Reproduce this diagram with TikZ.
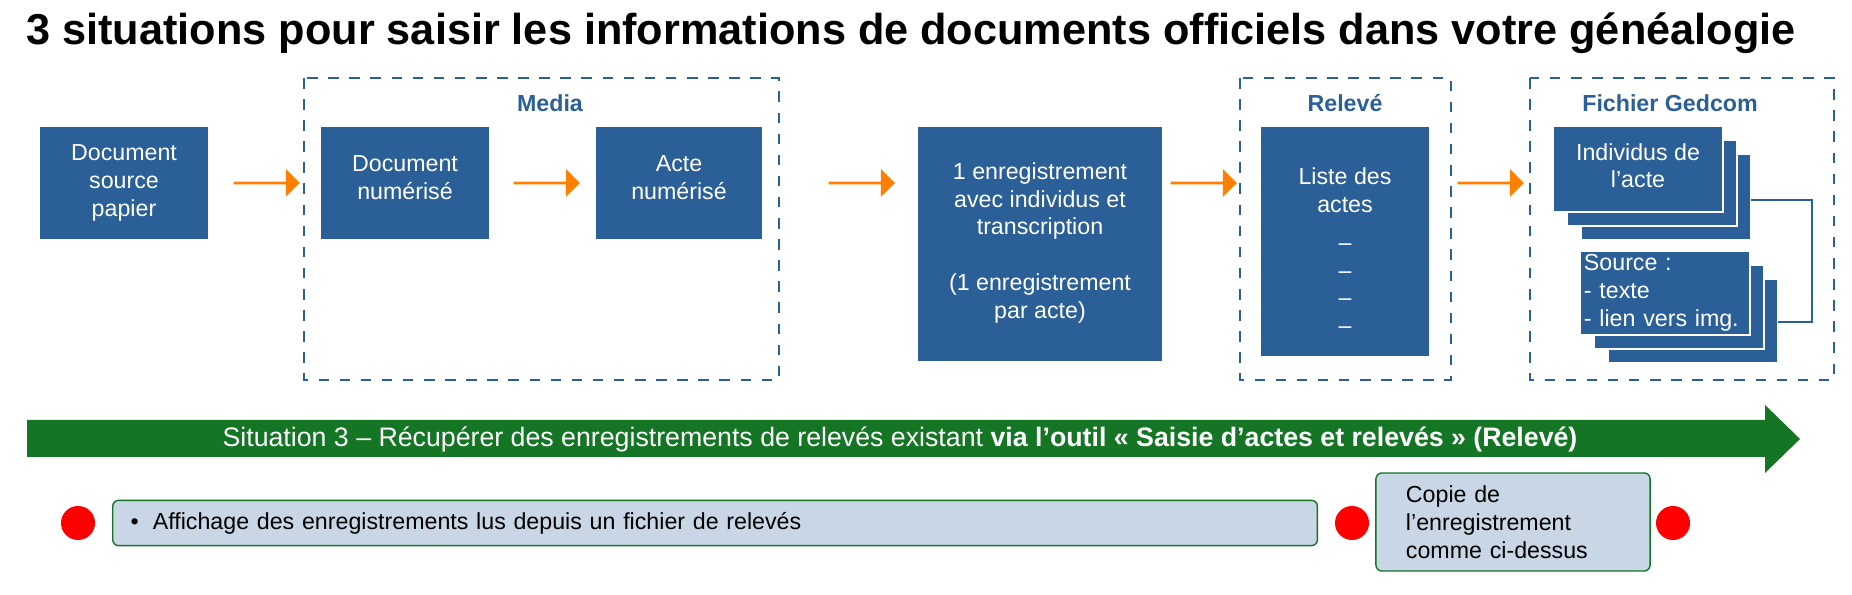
\documentclass[tikz,border=0pt]{standalone}
\usepackage{fontspec}
\setmainfont{Liberation Sans}
\usetikzlibrary{positioning,shapes.arrows}
\definecolor{boxblue}{HTML}{2B5F97}
\definecolor{arrorange}{HTML}{FF8000}
\definecolor{bargreen}{HTML}{147524}
\definecolor{notegrey}{HTML}{C8D6E6}
\tikzset{
 bluebox/.style={fill=boxblue, text=white, draw=white, thin, align=center,
   font=\fontsize{6.6}{7.9}\selectfont, inner sep=0pt},
 groupbox/.style={draw=boxblue, dashed, thin},
 grouplabel/.style={text=boxblue, font=\bfseries\fontsize{6.6}{8}\selectfont},
 flowarrow/.style={single arrow, fill=arrorange, minimum height=0.66cm,
   single arrow head extend=0.06cm, minimum width=0.28cm, inner sep=0pt},
 notebox/.style={fill=notegrey, draw=bargreen, thin, rounded corners=0.06cm,
   font=\fontsize{6.6}{7.9}\selectfont},
 reddot/.style={circle, fill=red, minimum size=0.34cm, inner sep=0pt}
}
\begin{document}
\begin{tikzpicture}[x=0.01cm,y=-0.01cm]
 \useasboundingbox (0,0) rectangle (1852,595);

 \node (title) [anchor=west, font=\bfseries\fontsize{12.3}{14}\selectfont] at (14,33)
  {3 situations pour saisir les informations de documents officiels dans votre généalogie};

 % groups
 \draw[groupbox] (304,78) rectangle (779,380);
 \draw[groupbox] (1240,78) rectangle (1451,380);
 \draw[groupbox] (1530,78) rectangle (1834,380);
 \node (gmedia) [grouplabel] at (550,103) {Media};
 \node (greleve) [grouplabel] at (1345,103) {Relevé};
 \node (ggedcom) [grouplabel] at (1670,103) {Fichier Gedcom};

 % boxes
 \node (papier) [bluebox, minimum width=1.7cm, minimum height=1.14cm] at (124,183)
  {Document\\source\\papier};
 \node (numdoc) [bluebox, minimum width=1.7cm, minimum height=1.14cm] at (405,183)
  {Document\\numérisé\vphantom{p}\\[-5pt]};
 \node (numacte) [bluebox, minimum width=1.68cm, minimum height=1.14cm] at (679,183)
  {Acte\\numérisé\\[-5pt]};
 \node (enreg) [bluebox, minimum width=2.45cm, minimum height=2.36cm] at (1040,244)
  {1 enregistrement\\avec individus et\\transcription\\[8pt](1 enregistrement\\par acte)\\[-6pt]};
 \node (liste) [bluebox, minimum width=1.69cm, minimum height=2.3cm, anchor=north] at (1345,126) {};
 \node (listetxt) [text=white, align=center, font=\fontsize{6.6}{7.9}\selectfont, anchor=north]
  at (1345,155) {Liste des\\actes\\[3pt]–\\–\\–\\–};

 % stacked gedcom boxes
 \foreach \d in {28,14} {
  \draw[fill=boxblue, draw=white] (1553+\d,126+\d) rectangle (1723+\d,212+\d);
  \draw[fill=boxblue, draw=white] (1580+\d,251+\d) rectangle (1750+\d,335+\d);
 }
 \node (indiv) [bluebox, minimum width=1.7cm, minimum height=0.86cm] at (1638,169)
  {Individus de\\l’acte\\[-6pt]};
 \node (source) [bluebox, align=left, minimum width=1.7cm, minimum height=0.84cm,
  text width=1.62cm] at (1665,293) {Source :\\- texte\\- lien vers img.};
 \coordinate (ci) at (1751,200);
 \coordinate (cs) at (1778,322);
 \draw[boxblue, thin] (ci) -- (1812,200) -- (1812,322) -- (cs);

 % arrows
 \node (a1) [flowarrow] at (266,183) {};
 \node (a2) [flowarrow] at (546,183) {};
 \node (a3) [flowarrow] at (861,183) {};
 \node (a4) [flowarrow] at (1203,183) {};
 \node (a5) [flowarrow] at (1490,183) {};

 % green bar
 \fill[bargreen] (27,420) -- (1765,420) -- (1765,405) -- (1800,439) -- (1765,473)
  -- (1765,457) -- (27,457) -- cycle;
 \node (bar) [text=white, font=\fontsize{7.6}{9}\selectfont] at (900,439)
  {Situation 3 – Récupérer des enregistrements de relevés existant \textbf{via l’outil « Saisie d’actes et relevés » (Relevé)}};

 % bottom line
 \node (d1) [reddot] at (78,523) {};
 \node (n1) [notebox, anchor=west, minimum width=12.04cm, minimum height=0.43cm,
  text width=11.8cm] at (112,523) {\hspace{0.06cm}\textbullet\hspace{0.14cm}Affichage des enregistrements lus depuis un fichier de relevés};
 \node (d2) [reddot] at (1352,523) {};
 \node (n2) [notebox, minimum width=2.74cm, minimum height=0.98cm, align=left,
  text width=2.14cm] at (1513,522)
  {Copie de\\l’enregistrement\\comme ci-dessus};
 \node (d3) [reddot] at (1673,523) {};
\end{tikzpicture}
\end{document}
